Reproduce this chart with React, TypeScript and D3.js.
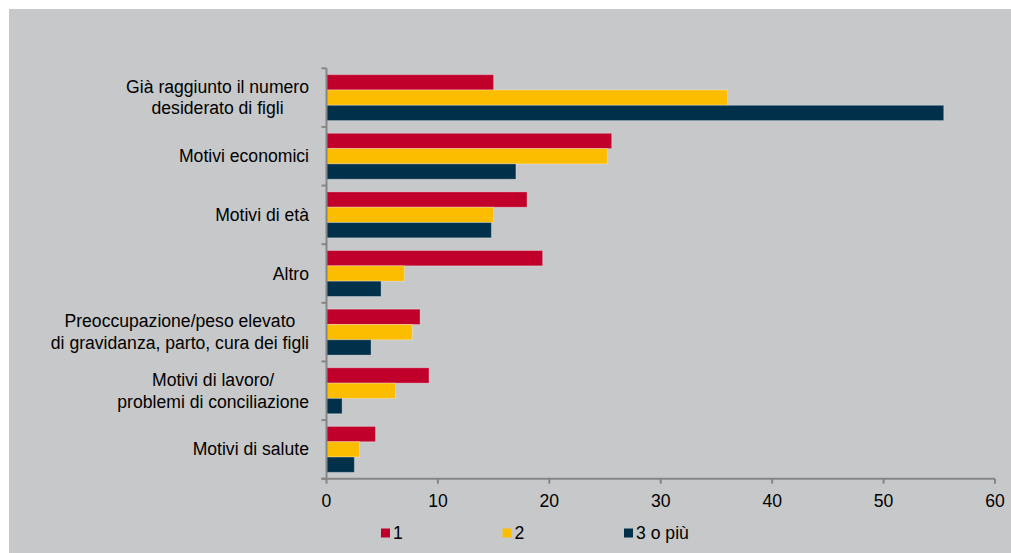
import React, { useEffect, useRef } from "react";
import * as d3 from "d3";

const categories: string[][] = [
  ["Già raggiunto il numero", "desiderato di figli"],
  ["Motivi economici"],
  ["Motivi di età"],
  ["Altro"],
  ["Preoccupazione/peso elevato", "di gravidanza, parto, cura dei figli"],
  ["Motivi di lavoro/", "problemi di conciliazione"],
  ["Motivi di salute"],
];
const seriesNames = ["1", "2", "3 o più"];
const seriesColors = ["#c0002a", "#fcbc00", "#00304a"];
const series1 = [15.0, 25.6, 18.0, 19.4, 8.4, 9.2, 4.4];
const series2 = [36.0, 25.2, 15.0, 7.0, 7.7, 6.2, 2.95];
const series3 = [55.4, 17.0, 14.8, 4.9, 4.0, 1.4, 2.5];
const xTicks = [0, 10, 20, 30, 40, 50, 60];

const W = 1011;
const H = 553;
const FONT = "'Liberation Sans', Arial, sans-serif";
const FS = 17.6;

export default function App() {
  const ref = useRef<SVGSVGElement | null>(null);

  useEffect(() => {
    const svg = d3.select(ref.current);
    svg.selectAll("*").remove();

    svg.append("rect").attr("x", 9).attr("y", 9).attr("width", W).attr("height", H)
      .attr("fill", "#c7c8ca");

    const left = 326.5, right = 995, top = 68.3, bottom = 478.7;
    const x = d3.scaleLinear().domain([0, 60]).range([left, right]);
    const y = d3.scaleBand<number>().domain(d3.range(categories.length)).range([top, bottom])
      .paddingInner(0).paddingOuter(0);
    const inner = d3.scaleBand<number>().domain([0, 1, 2]).range([0, y.bandwidth()])
      .paddingOuter(0.415).paddingInner(0);

    const data = [series1, series2, series3];
    const g = svg.append("g");
    data.forEach((vals, si) => {
      g.selectAll(null).data(vals).enter().append("rect")
        .attr("x", x(0))
        .attr("y", (_d, i) => (y(i) as number) + (inner(si) as number))
        .attr("width", (d) => x(d) - x(0))
        .attr("height", inner.bandwidth())
        .attr("fill", seriesColors[si])
        .attr("stroke", "rgba(255,255,255,0.3)")
        .attr("stroke-width", 1);
    });

    const axisColor = "#868686";
    svg.append("line").attr("x1", left).attr("x2", left).attr("y1", top).attr("y2", bottom)
      .attr("stroke", axisColor).attr("stroke-width", 2);
    for (let i = 0; i <= categories.length; i++) {
      const yy = top + i * y.step();
      svg.append("line").attr("x1", left - 5).attr("x2", left).attr("y1", yy).attr("y2", yy)
        .attr("stroke", axisColor).attr("stroke-width", 2);
    }
    svg.append("line").attr("x1", left - 5).attr("x2", right).attr("y1", bottom).attr("y2", bottom)
      .attr("stroke", axisColor).attr("stroke-width", 2);
    xTicks.forEach((t) => {
      svg.append("line").attr("x1", x(t)).attr("x2", x(t)).attr("y1", bottom).attr("y2", bottom + 5)
        .attr("stroke", axisColor).attr("stroke-width", 2);
      svg.append("text").attr("x", x(t)).attr("y", 507).attr("text-anchor", "middle")
        .attr("font-family", FONT).attr("font-size", FS).attr("fill", "#000").text(String(t));
    });

    const labelRight = 309;
    categories.forEach((lines, i) => {
      const cy = (y(i) as number) + y.bandwidth() / 2;
      const grp = svg.append("g");
      const texts = lines.map((ln, li) =>
        grp.append("text")
          .attr("y", cy + (li - (lines.length - 1) / 2) * 21.5 + 6)
          .attr("font-family", FONT).attr("font-size", FS).attr("fill", "#000")
          .attr("text-anchor", "middle").text(ln)
      );
      let maxW = 0;
      texts.forEach((t) => {
        const n = t.node() as SVGTextElement;
        maxW = Math.max(maxW, n.getComputedTextLength());
      });
      texts.forEach((t) => t.attr("x", labelRight - maxW / 2));
    });

    const legX = [381, 502.5, 624];
    seriesNames.forEach((name, si) => {
      svg.append("rect").attr("x", legX[si]).attr("y", 528.5).attr("width", 9).attr("height", 9)
        .attr("fill", seriesColors[si]);
      svg.append("text").attr("x", legX[si] + 12).attr("y", 538.5)
        .attr("font-family", FONT).attr("font-size", FS).attr("fill", "#000").text(name);
    });
  }, []);

  return (
    <svg ref={ref} width={W} height={H}
      style={{ position: "absolute", left: 0, top: 0, display: "block" }} />
  );
}
